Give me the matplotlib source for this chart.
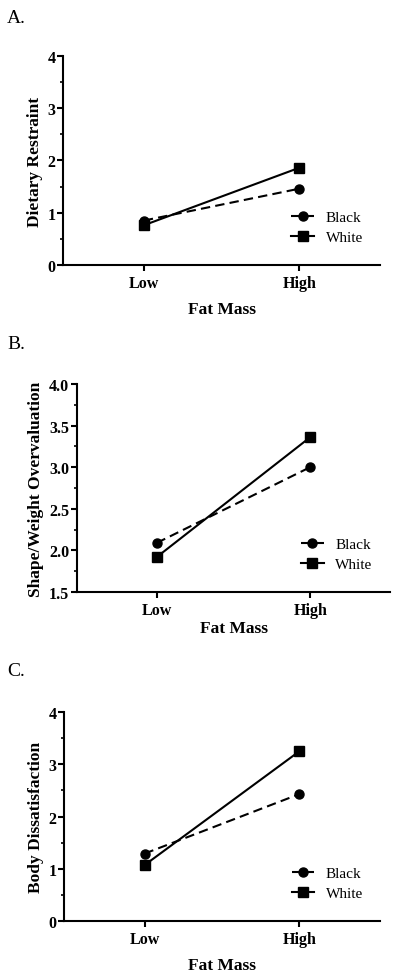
import matplotlib
matplotlib.use("Agg")
import matplotlib.pyplot as plt
from matplotlib.ticker import MultipleLocator

# ── Data ──────────────────────────────────────────────────────────────────────
fat_mass = ["Low", "High"]

restraint_black = [0.85, 1.46]
restraint_white = [0.76, 1.86]

overval_black = [2.09, 3.00]
overval_white = [1.92, 3.36]

dissat_black = [1.29, 2.43]
dissat_white = [1.07, 3.25]

# ── Style ─────────────────────────────────────────────────────────────────────
plt.rcParams.update({
    "font.family": ["Liberation Serif", "DejaVu Serif"],
    "axes.linewidth": 1.5,
})

LW = 1.5
MS = 6.5


def panel(ax, black, white, ylabel, ylim, major, minor, fmt, legend_x, ylab_x, xlab_y):
    x = list(range(len(fat_mass)))
    ax.plot(x, black, color="black", linestyle=(0, (4.5, 2.5)), linewidth=LW,
            marker="o", markersize=MS, label="Black")
    ax.plot(x, white, color="black", linestyle="-", linewidth=LW,
            marker="s", markersize=MS, label="White")

    ax.set_xlim(-0.52, 1.52)
    ax.set_ylim(*ylim)
    ax.set_xticks(x)
    ax.set_xticklabels(fat_mass, fontweight="bold", fontsize=11.5)
    ax.yaxis.set_major_locator(MultipleLocator(major))
    ax.yaxis.set_minor_locator(MultipleLocator(minor))
    ax.set_yticks(ax.get_yticks())
    ax.set_yticklabels([fmt.format(v) for v in ax.get_yticks()],
                       fontweight="bold", fontsize=11.5)
    ax.set_ylim(*ylim)

    ax.spines["top"].set_visible(False)
    ax.spines["right"].set_visible(False)
    ax.tick_params(axis="x", which="major", length=4, width=1.5, pad=3.5)
    ax.tick_params(axis="y", which="major", length=4, width=1.5, pad=1.5)
    ax.tick_params(axis="y", which="minor", length=2.5, width=1.2)

    ax.set_ylabel(ylabel, fontweight="bold", fontsize=12.5)
    ax.set_xlabel("Fat Mass", fontweight="bold", fontsize=12.5)
    ax.yaxis.set_label_coords(ylab_x, 0.5)
    ax.xaxis.set_label_coords(0.5, xlab_y)

    ax.legend(loc="center left", bbox_to_anchor=(legend_x, 0.18),
              frameon=False, fontsize=11, handlelength=1.5,
              handletextpad=0.75, labelspacing=0.4,
              borderpad=0, borderaxespad=0)


fig = plt.figure(figsize=(4.0, 9.79), dpi=100)

ax_a = fig.add_axes([0.1575, 0.7283, 0.7925, 0.2135])
ax_b = fig.add_axes([0.1925, 0.3943, 0.7825, 0.2125])
ax_c = fig.add_axes([0.16, 0.0582, 0.79, 0.2135])

panel(ax_a, restraint_black, restraint_white, "Dietary Restraint",
      (0, 4), 1, 0.5, "{:.0f}", 0.72, -0.064, -0.172)
panel(ax_b, overval_black, overval_white, "Shape/Weight Overvaluation",
      (1.5, 4.0), 0.5, 0.25, "{:.1f}", 0.715, -0.107, -0.137)
panel(ax_c, dissat_black, dissat_white, "Body Dissatisfaction",
      (0, 4), 1, 0.5, "{:.0f}", 0.72, -0.064, -0.172)

for label, y in (("A.", 1 - 18.5 / 979), ("B.", 1 - 345 / 979), ("C.", 1 - 672 / 979)):
    fig.text(0.018, y, label, fontsize=14, va="center", ha="left")

fig.savefig("out.png", dpi=100)
